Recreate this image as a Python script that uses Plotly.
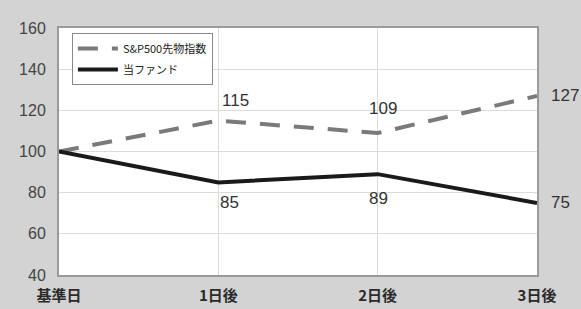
import plotly.graph_objects as go

categories = ["基準日", "1日後", "2日後", "3日後"]
sp500 = [100, 115, 109, 127]
fund = [100, 85, 89, 75]
series_names = ["S&P500先物指数", "当ファンド"]
y_ticks = [40, 60, 80, 100, 120, 140, 160]

FONT = "Liberation Sans, Noto Sans CJK JP, sans-serif"
CJK = "Noto Sans CJK JP, Liberation Sans, sans-serif"
xs = list(range(len(categories)))

# label offsets (styling only)
sp_xshift = [0, 17, 5, 12]
sp_yshift = [0, 20, 24, 0]
fd_xshift = [0, 11, 1, 12]
fd_yshift = [0, -20, -24, 0]

fig = go.Figure()
fig.add_trace(go.Scatter(x=xs, y=sp500, mode="lines", name=series_names[0],
                         legendgroup="a",
                         line=dict(color="#7a7a7a", width=4, dash="20px,14px"),
                         cliponaxis=False))
fig.add_trace(go.Scatter(x=xs, y=fund, mode="lines", name=series_names[1],
                         legendgroup="b",
                         line=dict(color="#1a1a1a", width=4),
                         cliponaxis=False))

for vals, xsh, ysh in ((sp500, sp_xshift, sp_yshift), (fund, fd_xshift, fd_yshift)):
    for i in range(1, len(xs)):
        last = i == len(xs) - 1
        fig.add_annotation(x=xs[i], y=vals[i], text=str(vals[i]), showarrow=False,
                           xanchor="left" if last else "center", xshift=xsh[i],
                           yanchor="middle", yshift=ysh[i],
                           font=dict(size=17, color="#333", family=FONT))

fig.update_layout(
    width=581, height=309,
    margin=dict(l=59, r=44, t=28, b=34, autoexpand=False),
    paper_bgcolor="#d3d3d3", plot_bgcolor="#ffffff",
    font=dict(family=FONT, color="#333"),
    showlegend=True,
    legend=dict(x=0.027, y=0.98, xanchor="left", yanchor="top",
                bgcolor="#ffffff", bordercolor="#8a8a8a", borderwidth=1,
                font=dict(size=11, color="#222", family=CJK),
                traceorder="grouped", tracegroupgap=2, itemwidth=40),
)
fig.update_xaxes(range=[0, 3], tickvals=xs, ticktext=categories,
                 showgrid=True, gridcolor="#dcdcdc", gridwidth=1,
                 showline=True, linecolor="#9a9a9a", linewidth=2, mirror=True,
                 ticks="", ticklabelstandoff=6, automargin=False,
                 tickfont=dict(size=15, color="#2a2a2a", family=CJK, weight="bold"),
                 zeroline=False)
fig.update_yaxes(range=[40, 160], tickvals=y_ticks,
                 showgrid=True, gridcolor="#dcdcdc", gridwidth=1,
                 showline=True, linecolor="#9a9a9a", linewidth=2, mirror=True,
                 ticks="", ticklabelstandoff=8, automargin=False,
                 tickfont=dict(size=16, color="#444", family=FONT), zeroline=False)

fig.write_html("out.html", config={"displayModeBar": False},
               post_script="document.body.style.margin='0';document.body.style.overflow='hidden';")
